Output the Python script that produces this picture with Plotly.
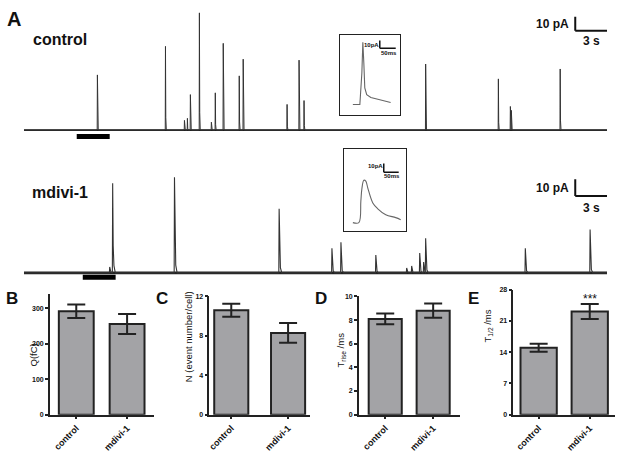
import plotly.graph_objects as go

W, H = 624, 460
FONT = "Arial, Liberation Sans, sans-serif"


def px(x):
    return x / W


def py(y):
    return 1 - y / H


# ---------------- data ----------------
trace_duration = 55  # s

control_spike_t = [6.93, 13.35, 15.14, 15.42, 15.70, 16.55, 17.68, 18.05, 18.80, 20.31,
                   20.68, 24.82, 25.95, 26.42, 37.89, 44.75, 45.88, 45.97, 50.58]
control_spike_amp = [40, 60.7, 7, 8.5, 25.7, 85, 5.7, 27, 62.9, 39.3,
                     51.4, 18.6, 50.7, 21.4, 47.9, 37.1, 17.1, 14.3, 44.3]

mdivi_spike_t = [8.09, 8.37, 14.20, 24.07, 29.05, 29.90, 33.19, 36.10, 36.57, 37.33,
                 37.70, 37.89, 47.29, 53.40]
mdivi_spike_amp = [3.5, 53.5, 57.1, 38.2, 14.7, 18.2, 10.6, 2.9, 4.1, 11.8,
                   6.5, 20.6, 14.7, 25.9]

control_inset_t = [40.6, 62.5, 68.8, 71.9, 75, 78, 84, 97, 122, 159]   # ms
control_inset_i = [0, 0, 40, 78.8, 52.5, 21, 12.5, 8.8, 6.3, 2.5]      # pA

mdivi_inset_t = [30, 50, 56.7, 60, 66.7, 73.3, 80, 96.7, 113.3, 140, 173.3, 190]
mdivi_inset_i = [0, 0, 24.4, 37.8, 47.8, 46.7, 38.9, 22.2, 15.6, 8.9, 5.6, 3.3]

categories = ["control", "mdivi-1"]
q_mean = [292, 256]
q_sem = [19, 28]
n_mean = [10.6, 8.3]
n_sem = [0.65, 1.0]
trise_mean = [8.1, 8.8]
trise_sem = [0.45, 0.6]
thalf_mean = [15.0, 23.1]
thalf_sem = [0.9, 1.7]


def build_trace(ts, amps, shape):
    xs, ys = [0], [0]
    for t, a in sorted(zip(ts, amps)):
        for dt, f in shape:
            xs.append(t + dt)
            ys.append(a * f)
    xs.append(trace_duration)
    ys.append(0)
    return xs, ys


ctrl_shape = [(-0.02, 0), (0, 1), (0.03, 0.15), (0.08, 0)]
mdivi_shape = [(-0.03, 0), (0, 1), (0.05, 0.3), (0.12, 0.08), (0.25, 0)]

cx, cy = build_trace(control_spike_t, control_spike_amp, ctrl_shape)
mx, my = build_trace(mdivi_spike_t, mdivi_spike_amp, mdivi_shape)

fig = go.Figure()

# ---- traces ----
fig.add_trace(go.Scatter(x=[0, trace_duration], y=[0, 0], mode="lines",
                         line=dict(color="#222", width=1.8), xaxis="x", yaxis="y", hoverinfo="skip"))
fig.add_trace(go.Scatter(x=cx, y=cy, mode="lines", line=dict(color="#333", width=1),
                         xaxis="x", yaxis="y"))
fig.add_trace(go.Scatter(x=[0, trace_duration], y=[0, 0], mode="lines",
                         line=dict(color="#222", width=2.6), xaxis="x2", yaxis="y2", hoverinfo="skip"))
fig.add_trace(go.Scatter(x=mx, y=my, mode="lines", line=dict(color="#333", width=1.1),
                         xaxis="x2", yaxis="y2"))

# ---- insets ----
fig.add_trace(go.Scatter(x=control_inset_t, y=control_inset_i, mode="lines",
                         line=dict(color="#666", width=1.1), xaxis="x3", yaxis="y3"))
fig.add_trace(go.Scatter(x=mdivi_inset_t, y=mdivi_inset_i, mode="lines",
                         line=dict(color="#666", width=1.1, shape="spline"), xaxis="x4", yaxis="y4"))

# ---- bars ----
panels = [
    ("5", q_mean, q_sem, 0.686),
    ("6", n_mean, n_sem, 0.60),
    ("7", trise_mean, trise_sem, 0.69),
    ("8", thalf_mean, thalf_sem, 0.71),
]
for ax, mean, sem, w in panels:
    fig.add_trace(go.Bar(x=[0, 1], y=mean, width=w,
                         marker=dict(color="#a3a3a6", line=dict(color="#222", width=2)),
                         error_y=dict(type="data", array=sem, thickness=2, width=9, color="#222"),
                         xaxis="x" + ax, yaxis="y" + ax))

hidden = dict(visible=False, showgrid=False, zeroline=False)

layout = dict(
    width=W, height=H, margin=dict(l=0, r=0, t=0, b=0),
    paper_bgcolor="white", plot_bgcolor="white", showlegend=False,
    font=dict(family=FONT, color="#111"),
    xaxis=dict(domain=[px(22), px(607)], range=[0, trace_duration], **hidden),
    yaxis=dict(domain=[py(140), py(0)], range=[-8.57, 91.43], **hidden),
    xaxis2=dict(domain=[px(22), px(607)], range=[0, trace_duration], anchor="y2", **hidden),
    yaxis2=dict(domain=[py(285), py(140)], range=[-7.06, 78.2], anchor="x2", **hidden),
)

box = dict(showline=True, mirror=True, linecolor="#222", linewidth=1, showticklabels=False,
           ticks="", showgrid=False, zeroline=False)
layout["xaxis3"] = dict(domain=[px(339), px(399)], range=[0, 187.5], anchor="y3", **box)
layout["yaxis3"] = dict(domain=[py(113), py(31)], range=[-13.75, 88.75], anchor="x3", **box)
layout["xaxis4"] = dict(domain=[px(343), px(405)], range=[0, 206.7], anchor="y4", **box)
layout["yaxis4"] = dict(domain=[py(230), py(147)], range=[-8.9, 83.3], anchor="x4", **box)

# bar panel axes: (axis px, end px, r0, r1, top px, ymax, tickvals)
bar_axes = {
    "5": (48, 152, -0.52, 1.52, 294, 342, [0, 100, 200, 300]),
    "6": (208, 309, -0.386, 1.386, 297, 12, [0, 4, 8, 12]),
    "7": (358, 459, -0.55, 1.55, 297, 10, [0, 2, 4, 6, 8, 10]),
    "8": (513, 615, -0.495, 1.495, 290, 28, [0, 7, 14, 21, 28]),
}
for ax, (x0, x1, r0, r1, ytop, ymax, tv) in bar_axes.items():
    layout["xaxis" + ax] = dict(
        domain=[px(x0), px(x1)], range=[r0, r1], anchor="y" + ax,
        tickvals=[0, 1], ticktext=categories, tickangle=-45,
        showline=True, linecolor="#222", linewidth=1.5, ticks="outside", ticklen=3,
        tickwidth=1.5, tickcolor="#222", showgrid=False, zeroline=False,
        tickfont=dict(size=9, family=FONT, weight="bold", color="#111"))
    layout["yaxis" + ax] = dict(
        domain=[py(417), py(ytop)], range=[0, ymax], anchor="x" + ax,
        tickvals=tv, showline=True, linecolor="#222", linewidth=1.5, ticks="outside",
        ticklen=3, tickwidth=1.5, tickcolor="#222", showgrid=False, zeroline=False,
        tickfont=dict(size=7, family=FONT, weight="bold", color="#111"))

fig.update_layout(**layout)

# ---- shapes: scale bars and stimulus bars ----
shapes = []
line2 = dict(color="#111", width=2)
for xr, yr, y0 in [("x", "y", 72.1), ("x2", "y2", 45.9)]:
    shapes.append(dict(type="line", xref=xr, yref=yr, x0=52, x1=52, y0=y0, y1=y0 + 10, line=line2))
    shapes.append(dict(type="line", xref=xr, yref=yr, x0=52, x1=55, y0=y0, y1=y0, line=line2))
shapes.append(dict(type="rect", xref="x", yref="y", x0=4.98, x1=8.09, y0=-6.43, y1=-2.86,
                   fillcolor="black", line=dict(width=0)))
shapes.append(dict(type="rect", xref="x2", yref="y2", x0=5.55, x1=8.65, y0=-4.12, y1=-1.18,
                   fillcolor="black", line=dict(width=0)))
line15 = dict(color="#111", width=1.5)
for xr, yr, xb, y0 in [("x3", "y3", 125, 71.25), ("x4", "y4", 133.3, 56.7)]:
    shapes.append(dict(type="line", xref=xr, yref=yr, x0=xb, x1=xb, y0=y0, y1=y0 + 10, line=line15))
    shapes.append(dict(type="line", xref=xr, yref=yr, x0=xb, x1=xb + 50, y0=y0, y1=y0, line=line15))
fig.update_layout(shapes=shapes)


def ann(text, x, y, size, bold=True, angle=0, **kw):
    d = dict(text=text, x=px(x), y=py(y), xref="paper", yref="paper", showarrow=False,
             textangle=angle, xanchor="center", yanchor="middle",
             font=dict(size=size, family=FONT, color="#111", weight="bold" if bold else "normal"))
    d.update(kw)
    return d


anns = [
    ann("A", 12, 15, 20),
    ann("control", 58, 36, 16),
    ann("mdivi-1", 58, 191, 16),
    ann("10 pA", 552, 20, 12),
    ann("3 s", 591, 38, 12),
    ann("10 pA", 552, 187, 12),
    ann("3 s", 591, 207, 12),
    ann("10pA", 371, 42, 6),
    ann("50ms", 388, 50, 6),
    ann("10pA", 375, 164, 6),
    ann("50ms", 391, 175, 6),
    ann("B", 10, 299, 17),
    ann("C", 161, 299, 17),
    ann("D", 320, 299, 17),
    ann("E", 473, 299, 17),
    ann("Q(fC)", 32, 356, 9.5, bold=False, angle=-90),
    ann("N (event number/cell)", 187, 338, 9.5, bold=False, angle=-90),
    ann("T<sub>rise</sub> /ms", 340, 351, 9.5, bold=False, angle=-90),
    ann("T<sub>1/2</sub> /ms", 488, 327, 9.5, bold=False, angle=-90),
    ann("***", 590, 300, 12, bold=False),
]
fig.update_layout(annotations=anns)

fig.write_html("out.html", config={"displayModeBar": False},
               post_script="document.body.style.margin='0';document.body.style.overflow='hidden';")
